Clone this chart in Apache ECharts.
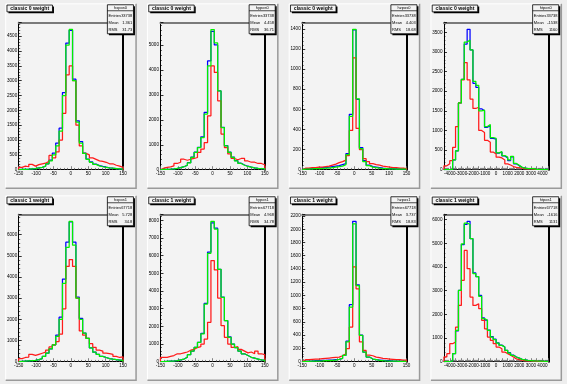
<!DOCTYPE html>
<html>
<head>
<meta charset="utf-8">
<script src="https://cdn.jsdelivr.net/npm/echarts@6.0.0/dist/echarts.min.js"></script>
<style>
html,body{margin:0;padding:0;background:#ffffff;}
#chart{width:567px;height:384px;}
</style>
</head>
<body>
<div id="chart"></div>
<script>
// ---------- texts ----------
const padTitles = ['classic 0 weight','classic 0 weight','classic 0 weight','classic 0 weight',
                   'classic 1 weight','classic 1 weight','classic 1 weight','classic 1 weight'];
const statNames   = ['hxpos0','hypos0','hzpos0','htpos0','hxpos1','hypos1','hzpos1','htpos1'];
const statEntries = ['33738','33738','33738','33738','67718','67718','67718','67718'];
const statMeans   = ['1.361','4.458','4.403','-1538','5.728','4.968','3.737','-1616'];
const statRMS     = ['31.73','36.71','18.68','1160','34.8','34.78','18.83','1131'];

// ---------- binning / axes ----------
const posRange = [-150, 150];  const posBins = 31;
const timeRange = [-4500, 4500]; const timeBins = 36;
const isTime = [false,false,false,true,false,false,false,true];
const yMax  = [4970, 5910, 1465, 3755, 6960, 8340, 2226, 6230];
const yStep = [500, 1000, 200, 500, 1000, 1000, 200, 1000];

// ---------- histogram contents (blue, red, green) ----------
const blue1  = [10,15,20,30,40,60,80,120,200,320,560,900,1400,2600,4270,4700,3050,1650,950,560,360,260,190,140,110,85,65,50,40,30,20];
const red1   = [80,120,100,180,120,170,200,220,280,480,400,600,1000,1900,3200,3500,3000,1500,800,550,500,400,350,300,280,250,200,200,150,120,80];
const green1 = [10,15,20,30,40,60,80,120,200,300,500,800,1300,2500,4200,4730,3000,1600,900,550,350,250,180,130,100,80,60,50,40,30,20];

const blue2  = [10,15,20,30,50,80,120,180,280,500,700,900,1320,2300,4360,5550,5000,3160,1700,970,700,500,360,260,190,140,100,70,50,40,30];
const red2   = [60,90,110,150,250,300,420,380,420,450,490,690,830,1090,2160,4160,3900,2760,1430,890,630,450,400,450,450,350,300,300,250,250,200];
const green2 = [10,15,20,30,50,80,120,180,270,490,690,890,1290,2230,4160,5620,5080,3160,1690,960,690,490,350,250,180,130,100,70,50,40,30];

const blue3  = [10,10,12,15,15,20,20,25,30,35,40,50,60,160,550,1390,700,220,90,45,30,25,20,15,12,10,10,8,8,5,5];
const red3   = [15,15,20,20,25,25,30,35,45,55,70,80,95,140,390,1110,410,200,110,80,60,50,45,35,30,25,20,20,15,15,10];
const green3 = [5,5,8,10,10,12,15,15,20,25,30,35,50,150,530,1395,705,210,80,40,25,20,15,12,10,8,8,5,5,5,5];

const blue4  = [0,0,10,250,480,1700,2300,3200,3575,3050,2200,2100,1550,1500,1080,1120,800,780,420,450,350,300,230,330,150,100,60,40,30,20,30,10,10,5,10,5];
const red4   = [100,150,230,570,1100,1700,2290,2730,2290,1800,1560,1590,1000,950,750,700,450,400,320,300,250,150,120,80,60,50,40,30,20,20,15,10,10,5,5,5];
const green4 = [0,0,10,250,480,1700,2300,3250,3300,3050,2250,2150,1500,1520,1100,1150,820,800,430,460,360,320,250,340,160,110,60,40,30,25,30,10,10,5,10,5];

const blue5  = [20,30,40,50,60,100,150,250,400,600,800,1250,2100,3900,5640,6600,5650,3050,2050,1350,1100,650,450,350,250,200,150,120,100,80,60];
const red5   = [150,200,220,350,300,350,400,450,550,700,800,950,1300,2500,4500,4820,4500,3000,1450,1250,1100,850,680,550,500,400,380,350,250,200,230];
const green5 = [20,30,40,50,60,100,150,250,400,600,800,1200,2000,3700,5400,6630,5500,3000,2000,1350,1100,650,450,350,250,200,150,120,100,80,60];

const blue6  = [10,20,30,40,60,100,150,250,400,600,810,1090,1600,3300,6200,7850,7550,5230,3650,2330,1400,1000,800,600,450,350,250,200,150,100,80];
const red6   = [250,250,300,350,450,450,500,550,650,700,800,850,1000,1280,2230,5720,5190,3600,2040,1380,1000,810,850,700,600,500,550,450,600,450,400];
const green6 = [10,20,30,40,60,100,150,250,400,600,810,1090,1570,3260,6130,7945,7500,5230,3640,2320,1380,1000,800,600,450,350,250,200,150,100,80];

const blue7  = [10,10,10,15,15,20,20,25,25,30,35,50,95,310,860,2120,1160,400,146,70,40,30,25,20,15,15,10,10,10,10,10];
const red7   = [30,30,35,40,40,45,50,55,60,65,70,90,120,196,523,1430,1100,300,170,100,90,70,60,50,45,40,35,30,30,25,25];
const green7 = [5,5,8,10,10,12,15,15,20,25,35,50,95,300,825,2080,1150,397,146,70,40,30,20,15,12,10,8,8,5,5,5];

const blue8  = [0,0,30,340,1300,3010,4950,5800,5930,5200,3750,3600,2800,1850,1760,1330,1060,950,800,700,620,480,380,280,200,150,100,80,60,50,40,30,20,20,10,10];
const red8   = [200,340,760,830,1460,2380,3440,4700,3930,2730,2380,2450,2240,1750,1390,1040,900,760,620,550,410,340,270,200,120,90,70,50,40,30,20,20,10,10,10,5];
const green8 = [0,0,30,340,1320,3010,4980,5860,5800,5200,3720,3600,2760,1820,1750,1320,1040,930,790,690,620,480,366,270,200,150,100,80,60,50,40,30,20,20,10,10];

const panelBlue  = [blue1,blue2,blue3,blue4,blue5,blue6,blue7,blue8];
const panelRed   = [red1,red2,red3,red4,red5,red6,red7,red8];
const panelGreen = [green1,green2,green3,green4,green5,green6,green7,green8];

// ---------- style ----------
const FONT = '"Liberation Sans", Arial, Helvetica, sans-serif';
const CANVAS_BG = '#eeeeee';
const PAD_BG = '#f3f3f3';

function hist(range, n, vals) {
  const w = (range[1] - range[0]) / n;
  const d = [[range[0], 0]];
  for (let k = 0; k < n; k++) d.push([range[0] + k * w, vals[k]]);
  d.push([range[1], vals[n - 1]]);
  d.push([range[1], 0]);
  return d;
}

const grid = [], xAxis = [], yAxis = [], series = [], elements = [];

for (let i = 0; i < 8; i++) {
  const c = i % 4, r = Math.floor(i / 4);
  const px = 5.67 + c * 141.75, py = 3.84 + r * 192, pw = 130.4, ph = 184.3;
  const fl = px + 0.1 * pw, ft = py + 0.1 * ph, fw = 0.8 * pw, fh = 0.8 * ph;
  const t = isTime[i];
  const rng = t ? timeRange : posRange;
  const nb = t ? timeBins : posBins;

  elements.push({type:'rect', silent:true, z:-20, shape:{x:px, y:py, width:pw, height:ph}, style:{fill:PAD_BG}});
  elements.push({type:'polyline', silent:true, z:-19, shape:{points:[[px, py+ph],[px, py],[px+pw, py]]}, style:{stroke:'#ffffff', lineWidth:1, fill:null}});
  elements.push({type:'polyline', silent:true, z:-19, shape:{points:[[px, py+ph],[px+pw, py+ph],[px+pw, py]]}, style:{stroke:'#9a9a9a', lineWidth:1.5, fill:null}});

  grid.push({left:fl, top:ft, width:fw, height:fh, show:false});

  xAxis.push({
    gridIndex:i, type:'value', min:rng[0], max:rng[1], interval: t ? 500 : 50, position:'bottom',
    axisLine:{show:true, onZero:false, lineStyle:{color:'#000', width:1}},
    axisTick:{show:true, inside:true, length:3.5, lineStyle:{color:'#666', width:0.8}},
    minorTick:{show:true, splitNumber:5, length:1.8, lineStyle:{color:'#666', width:0.8}},
    axisLabel:{show:true, fontSize:4.6, margin:2, color:'#000', fontFamily:FONT,
      formatter: v => (t && v % 1000 !== 0) ? '' : String(v)},
    splitLine:{show:false}
  });
  xAxis.push({
    gridIndex:i, type:'value', min:rng[0], max:rng[1], position:'top',
    axisLine:{show:true, onZero:false, lineStyle:{color:'#7a7a7a', width:2}},
    axisTick:{show:false}, axisLabel:{show:false}, splitLine:{show:false}
  });
  yAxis.push({
    gridIndex:i, type:'value', min:0, max:yMax[i], interval:yStep[i], position:'left',
    axisLine:{show:true, onZero:false, lineStyle:{color:'#000', width:1}},
    axisTick:{show:true, inside:true, length:3, lineStyle:{color:'#000', width:0.8}},
    minorTick:{show:true, splitNumber:5, length:1.5, lineStyle:{color:'#000', width:0.6}},
    axisLabel:{show:true, fontSize:4.6, margin:1.5, color:'#000', fontFamily:FONT, showMaxLabel:false,
      formatter: v => String(v)},
    splitLine:{show:false}
  });
  yAxis.push({
    gridIndex:i, type:'value', min:0, max:yMax[i], position:'right',
    axisLine:{show:true, onZero:false, lineStyle:{color:'#000', width:2}},
    axisTick:{show:false}, axisLabel:{show:false}, splitLine:{show:false}
  });

  const sets = [[panelBlue[i], '#0000ff'], [panelRed[i], '#ff1a1a'], [panelGreen[i], '#00f000']];
  sets.forEach(([vals, col]) => {
    series.push({
      type:'line', xAxisIndex:2*i, yAxisIndex:2*i, step:'end', showSymbol:false, symbol:'none',
      data: hist(rng, nb, vals), lineStyle:{color:col, width:1.25}, itemStyle:{color:col},
      silent:true, animation:false, clip:true, z:3
    });
  });

  const tx = px + 0.01 * pw, ty = py + 0.005 * ph + 0.3, tw = 45.5, th = 6.8;
  elements.push({type:'rect', silent:true, z:50, shape:{x:tx+1.5, y:ty+1.5, width:tw, height:th}, style:{fill:'#000'}});
  elements.push({type:'rect', silent:true, z:51, shape:{x:tx, y:ty, width:tw, height:th}, style:{fill:PAD_BG, stroke:'#000', lineWidth:0.8}});
  elements.push({type:'text', silent:true, z:52, style:{text:padTitles[i], x:tx+tw/2, y:ty+th/2+0.3, font:'bold 5.1px ' + FONT, fill:'#000',
    align:'center', verticalAlign:'middle', textAlign:'center', textVerticalAlign:'middle'}});

  const sx = px + 0.78 * pw, sy = py + 0.005 * ph, sw = 0.2 * pw, sh = 29;
  elements.push({type:'rect', silent:true, z:50, shape:{x:sx+1.5, y:sy+1.5, width:sw, height:sh}, style:{fill:'#000'}});
  elements.push({type:'rect', silent:true, z:51, shape:{x:sx, y:sy, width:sw, height:sh}, style:{fill:PAD_BG, stroke:'#000', lineWidth:0.8}});
  elements.push({type:'line', silent:true, z:52, shape:{x1:sx, y1:sy+6, x2:sx+sw, y2:sy+6}, style:{stroke:'#000', lineWidth:0.7}});
  const sf = '4px ' + FONT;
  elements.push({type:'text', silent:true, z:52, style:{text:statNames[i], x:sx+sw/2, y:sy+3, font:sf, fill:'#000', align:'center', verticalAlign:'middle', textAlign:'center', textVerticalAlign:'middle'}});
  const rows = [['Entries', statEntries[i], 11], ['Mean', statMeans[i], 18.2], ['RMS', statRMS[i], 25]];
  rows.forEach(([lab, val, dy]) => {
    elements.push({type:'text', silent:true, z:52, style:{text:lab, x:sx+1.2, y:sy+dy, font:sf, fill:'#000', align:'left', verticalAlign:'middle', textAlign:'left', textVerticalAlign:'middle'}});
    elements.push({type:'text', silent:true, z:52, style:{text:val, x:sx+sw-1.2, y:sy+dy, font:sf, fill:'#000', align:'right', verticalAlign:'middle', textAlign:'right', textVerticalAlign:'middle'}});
  });
}

const chart = echarts.init(document.getElementById('chart'), null, {renderer:'canvas', width:567, height:384});
chart.setOption({
  backgroundColor: CANVAS_BG,
  animation: false,
  grid, xAxis, yAxis, series,
  graphic: {elements}
});
</script>
</body>
</html>
